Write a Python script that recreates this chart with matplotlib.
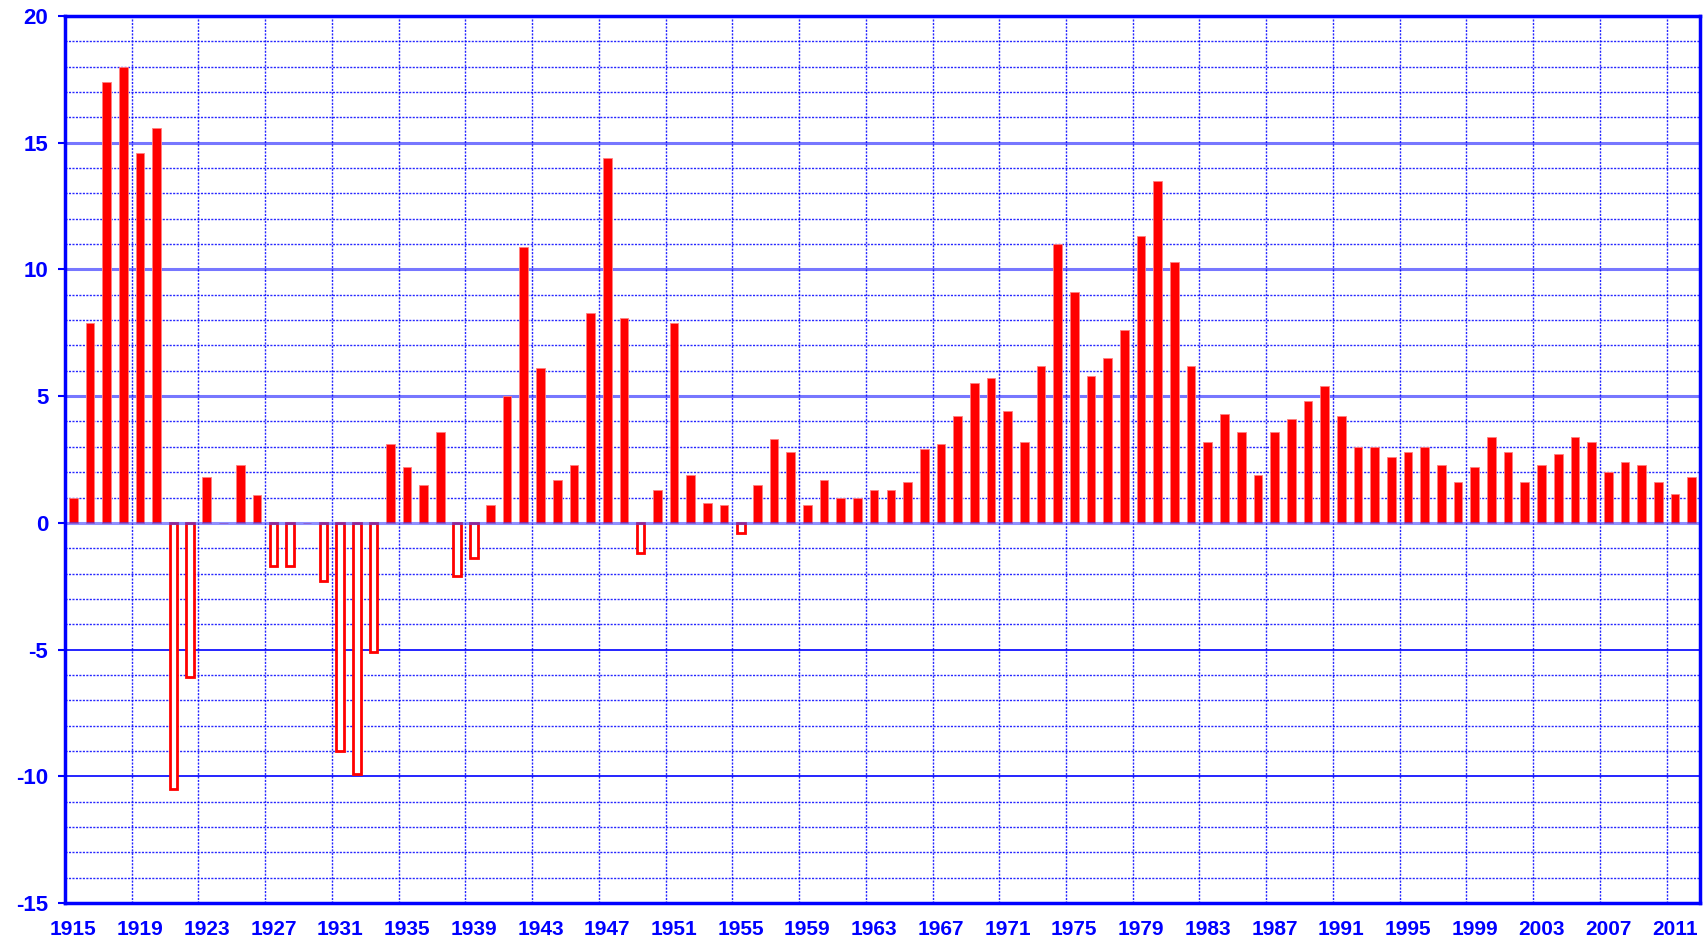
import matplotlib
matplotlib.use("Agg")
import matplotlib.pyplot as plt
import numpy as np

plt.rcParams['font.family'] = ['Liberation Sans', 'DejaVu Sans']

years = list(range(1915, 2013))
inflation = [
    1.0, 7.9, 17.4, 18.0, 14.6, 15.6, -10.5, -6.1, 1.8, 0.0,      # 1915-1924
    2.3, 1.1, -1.7, -1.7, 0.0, -2.3, -9.0, -9.9, -5.1, 3.1,       # 1925-1934
    2.2, 1.5, 3.6, -2.1, -1.4, 0.7, 5.0, 10.9, 6.1, 1.7,          # 1935-1944
    2.3, 8.3, 14.4, 8.1, -1.2, 1.3, 7.9, 1.9, 0.8, 0.7,           # 1945-1954
    -0.4, 1.5, 3.3, 2.8, 0.7, 1.7, 1.0, 1.0, 1.3, 1.3,            # 1955-1964
    1.6, 2.9, 3.1, 4.2, 5.5, 5.7, 4.4, 3.2, 6.2, 11.0,            # 1965-1974
    9.1, 5.8, 6.5, 7.6, 11.3, 13.5, 10.3, 6.2, 3.2, 4.3,          # 1975-1984
    3.6, 1.9, 3.6, 4.1, 4.8, 5.4, 4.2, 3.0, 3.0, 2.6,             # 1985-1994
    2.8, 3.0, 2.3, 1.6, 2.2, 3.4, 2.8, 1.6, 2.3, 2.7,             # 1995-2004
    3.4, 3.2, 2.0, 2.4, 2.3, 1.6, 1.15, 1.8,                      # 2005-2012
]
tick_years = list(range(1915, 2013, 4))
y_ticks = [20, 15, 10, 5, 0, -5, -10, -15]

BLUE = "#0000FF"
RED = "#FF0000"

fig = plt.figure(figsize=(17.05, 9.39), dpi=100)
ax = fig.add_axes([65 / 1705, 36 / 939, 1635 / 1705, 887 / 939])

x = np.arange(len(years))
vals = np.array(inflation)
pos = vals >= 0
neg = vals < 0

# gridlines: dotted every unit, solid at multiples of 5
for v in range(-15, 21):
    if v % 5 != 0:
        ax.axhline(v, color=BLUE, lw=1.0, ls=(0, (1.5, 1)), alpha=0.85, zorder=0)
    elif v > 0:
        ax.axhline(v, color="#7777FF", lw=2.2, zorder=0)
    elif v < 0:
        ax.axhline(v, color=BLUE, lw=1.2, zorder=0)
for b in np.arange(3.5, len(years), 4):
    ax.axvline(b, color=BLUE, lw=1.0, ls=(0, (1.5, 1)), alpha=0.85, zorder=0)

ax.bar(x[pos], vals[pos], width=0.52, color=RED, edgecolor="#FF8080", lw=0.6, zorder=2)
ax.bar(x[neg], vals[neg], width=0.46, facecolor="white", edgecolor=RED, lw=2.0, zorder=2)
ax.axhline(0, color="#4444FF", lw=2.2, alpha=0.6, zorder=3)

ax.set_xlim(-0.5, len(years) - 0.5)
ax.set_ylim(-15, 20)
ax.set_yticks(y_ticks)
ax.set_yticklabels([str(t) for t in y_ticks])
ax.set_xticks([years.index(t) for t in tick_years])
ax.set_xticklabels([str(t) for t in tick_years])

ax.tick_params(axis="y", direction="out", length=5, width=1.5, color=BLUE, pad=7,
               labelsize=16, labelcolor=BLUE)
ax.tick_params(axis="x", length=0, pad=12, labelsize=15, labelcolor=BLUE)
for lab in ax.get_xticklabels() + ax.get_yticklabels():
    lab.set_fontweight("bold")

for s in ax.spines.values():
    s.set_color(BLUE)
    s.set_linewidth(2.5)
    s.set_zorder(4)

fig.savefig("out.png", dpi=100)
